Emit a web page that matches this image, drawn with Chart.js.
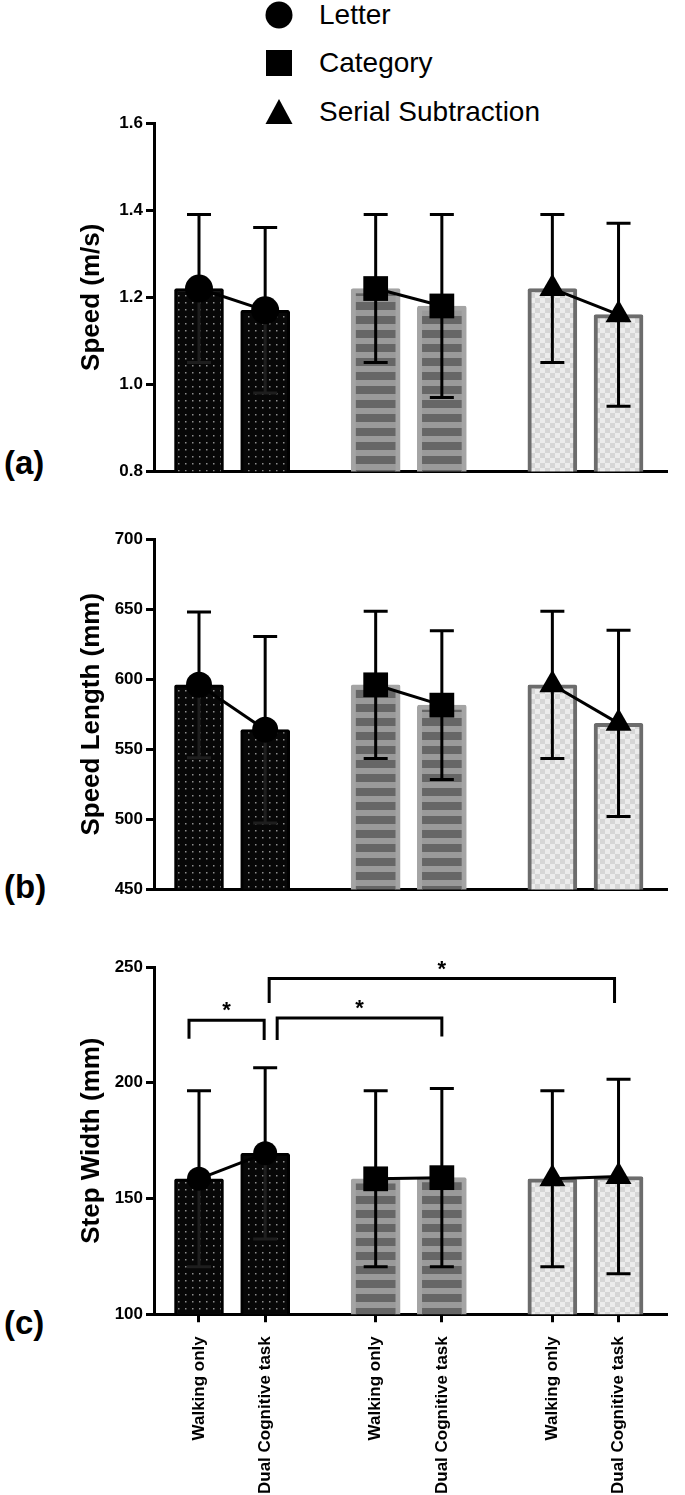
<!DOCTYPE html>
<html><head><meta charset="utf-8">
<script src="https://cdn.jsdelivr.net/npm/chart.js@4.4.1/dist/chart.umd.min.js"></script>
<style>
html,body{margin:0;padding:0;background:#fff;width:685px;height:1495px;overflow:hidden;position:relative;font-family:"Liberation Sans",Arial,sans-serif;}
canvas{position:absolute;left:0;top:0;}
.lg{position:absolute;left:0;width:685px;height:30px;}
.lg svg{position:absolute;left:265px;top:1px;}
.lg span{position:absolute;left:319px;top:0;font-size:28px;line-height:30px;color:#000;white-space:nowrap;}
.pl{position:absolute;left:4px;font-size:33px;line-height:36px;font-weight:bold;color:#000;}
</style></head><body>
<div class="lg" style="top:0px"><svg width="28" height="28"><circle cx="14" cy="14" r="13.5" fill="#000"/></svg><span>Letter</span></div>
<div class="lg" style="top:48px"><svg width="28" height="28"><rect x="1" y="1" width="26" height="26" fill="#000"/></svg><span>Category</span></div>
<div class="lg" style="top:97px"><svg width="28" height="28"><polygon points="14,1 27.5,26 0.5,26" fill="#000"/></svg><span>Serial Subtraction</span></div>
<div class="pl" style="top:445px">(a)</div>
<div class="pl" style="top:869px">(b)</div>
<div class="pl" style="top:1305px">(c)</div>
<canvas id="cA"></canvas>
<canvas id="cB"></canvas>
<canvas id="cC"></canvas>
<script>
// ---------- data ----------
const tasks = ['Letter', 'Category', 'Serial Subtraction'];
const conditions = ['Walking only', 'Dual Cognitive task'];

const speedWalk = [1.22, 1.22, 1.22];
const speedWalkSD = [0.17, 0.17, 0.17];
const speedDual = [1.17, 1.18, 1.16];
const speedDualSD = [0.19, 0.21, 0.21];

const stepLenWalk = [596, 596, 596];
const stepLenWalkSD = [52, 52.5, 52.5];
const stepLenDual = [564, 581.5, 568.5];
const stepLenDualSD = [66.5, 53, 66.5];

const stepWidthWalk = [158.5, 158.5, 158.5];
const stepWidthWalkSD = [38, 38, 38];
const stepWidthDual = [169.5, 159, 159.5];
const stepWidthDualSD = [37, 38.5, 42];

const speedTicks = [0.8, 1.0, 1.2, 1.4, 1.6];
const stepLenTicks = [450, 500, 550, 600, 650, 700];
const stepWidthTicks = [100, 150, 200, 250];

// significance brackets (panel c): [task, condition] pairs and bracket level
const sigFrom = [[0, 0], [0, 1], [0, 1]];
const sigTo = [[0, 1], [1, 1], [2, 1]];
const sigLevel = [227, 228, 245];
const sigLegFrom = [219, 218.5, 234.5];
const sigLegTo = [218.5, 220, 234.5];
const sigLabel = ['*', '*', '*'];

// ---------- layout / style ----------
const GROUP_STEP = 2.67;
const xOf = (g, c) => g * GROUP_STEP + c;
const barX = [];
tasks.forEach((t, g) => conditions.forEach((c, ci) => barX.push(xOf(g, ci))));

Chart.defaults.font.family = '"Liberation Sans", Arial, sans-serif';
Chart.defaults.color = '#000';

function mk(w, h, draw) {
  const c = document.createElement('canvas'); c.width = w; c.height = h;
  const x = c.getContext('2d'); draw(x); return x.createPattern(c, 'repeat');
}
const dotFill = mk(7, 7, x => { x.fillStyle = '#070707'; x.fillRect(0, 0, 7, 7); x.fillStyle = '#8c8c8c'; x.fillRect(3, 3, 1.5, 1.5); });
const stripeFill = mk(14, 14, x => { x.fillStyle = '#9a9a9a'; x.fillRect(0, 0, 14, 14); x.fillStyle = '#666666'; x.fillRect(0, 3, 14, 8); });
const checkFill = mk(10, 10, x => { x.fillStyle = '#ececec'; x.fillRect(0, 0, 10, 10); x.fillStyle = '#d6d6d6'; x.fillRect(0, 0, 5, 5); x.fillRect(5, 5, 5, 5); });

const fills = [dotFill, stripeFill, checkFill];
const borders = ['#000000', '#a4a4a4', '#6c6c6c'];
const borderWidths = [3, 5, 4];
const pointStyles = ['circle', 'rect', 'triangle'];
const pointRadii = [13, 17.5, 15];

const errorBars = {
  id: 'errorBars',
  afterDatasetDraw(chart, args) {
    const ds = chart.data.datasets[args.index];
    if (!ds.errors) return;
    const ctx = chart.ctx, ys = chart.scales.y;
    ctx.save();
    ctx.lineWidth = 3;
    args.meta.data.forEach((bar, i) => {
      const m = ds.data[i].y, e = ds.errors[i];
      const yt = ys.getPixelForValue(m + e), ym = ys.getPixelForValue(m), yb = ys.getPixelForValue(m - e);
      const x = bar.x;
      ctx.strokeStyle = '#000';
      ctx.beginPath();
      ctx.moveTo(x, yt); ctx.lineTo(x, ym);
      ctx.moveTo(x - 12, yt); ctx.lineTo(x + 12, yt);
      ctx.stroke();
      ctx.strokeStyle = ds.lowerErrColor || '#000';
      ctx.beginPath();
      ctx.moveTo(x, ym); ctx.lineTo(x, yb);
      ctx.moveTo(x - 12, yb); ctx.lineTo(x + 12, yb);
      ctx.stroke();
    });
    ctx.restore();
  }
};

const sigPlugin = {
  id: 'sig',
  afterDraw(chart) {
    const ctx = chart.ctx, xs = chart.scales.x, ys = chart.scales.y;
    const offL = [-10, 12, 4], offR = [-1, 0, -4];
    ctx.save();
    ctx.strokeStyle = '#000'; ctx.lineWidth = 3; ctx.lineJoin = 'miter';
    ctx.fillStyle = '#000'; ctx.font = 'bold 22px "Liberation Sans", Arial';
    ctx.textAlign = 'center'; ctx.textBaseline = 'alphabetic';
    sigLevel.forEach((lv, i) => {
      const x1 = xs.getPixelForValue(xOf(sigFrom[i][0], sigFrom[i][1])) + offL[i];
      const x2 = xs.getPixelForValue(xOf(sigTo[i][0], sigTo[i][1])) + offR[i];
      const y = ys.getPixelForValue(lv);
      ctx.beginPath();
      ctx.moveTo(x1, ys.getPixelForValue(sigLegFrom[i]));
      ctx.lineTo(x1, y); ctx.lineTo(x2, y);
      ctx.lineTo(x2, ys.getPixelForValue(sigLegTo[i]));
      ctx.stroke();
      ctx.fillText(sigLabel[i], (x1 + x2) / 2, y - 3);
    });
    ctx.restore();
  }
};

function yScale(min, max, tickArr, title, fmt) {
  return {
    type: 'linear', min: min, max: max,
    afterBuildTicks: s => { s.ticks = tickArr.map(v => ({ value: v })); },
    afterFit: s => { s.width = 84; },
    ticks: { font: { size: 17, weight: 'bold' }, color: '#000', padding: 3, callback: v => fmt(v) },
    grid: { display: true, drawOnChartArea: false, drawTicks: true, tickLength: 8, tickWidth: 3, tickColor: '#000', color: '#000' },
    border: { display: true, color: '#000', width: 3 },
    title: { display: true, text: title, font: { size: 26, weight: 'bold' }, color: '#000', padding: { top: 6, bottom: 0 } }
  };
}
function xScale(showLabels) {
  return {
    type: 'linear', min: -0.68, max: 7.08, offset: false,
    afterBuildTicks: s => { s.ticks = barX.map(v => ({ value: v })); },
    ticks: { display: showLabels, autoSkip: false, maxRotation: 90, minRotation: 90, font: { size: 17, weight: 'bold' }, color: '#000', padding: 14, callback: (v, i) => conditions[i % 2] },
    grid: { display: true, offset: false, drawOnChartArea: false, drawTicks: showLabels, tickLength: 8, tickWidth: 3, tickColor: '#000', color: '#000' },
    border: { display: true, color: '#000', width: 3 }
  };
}
function datasets(walk, dual, walkSD, dualSD, rAdj) {
  const bars = tasks.map((t, g) => ({
    type: 'bar', label: t, order: 3, grouped: false, barThickness: 49,
    data: [{ x: xOf(g, 0), y: walk[g] }, { x: xOf(g, 1), y: dual[g] }],
    errors: [walkSD[g], dualSD[g]],
    lowerErrColor: g === 0 ? '#1e1e1e' : '#000',
    backgroundColor: fills[g], borderColor: borders[g], borderWidth: borderWidths[g],
    borderSkipped: false, borderRadius: 2
  }));
  const lines = tasks.map((t, g) => ({
    type: 'line', label: t, order: 1,
    data: [{ x: xOf(g, 0), y: walk[g] }, { x: xOf(g, 1), y: dual[g] }],
    borderColor: '#000', borderWidth: 3, backgroundColor: '#000',
    pointBackgroundColor: '#000', pointBorderColor: '#000', pointBorderWidth: 0,
    pointStyle: pointStyles[g], pointRadius: pointRadii[g] + (g === 0 ? rAdj : 0),
    fill: false, tension: 0, clip: false
  }));
  return bars.concat(lines);
}
function config(walk, dual, walkSD, dualSD, yMin, yMax, tickArr, title, fmt, showX, padTop, extra, rAdj) {
  return {
    type: 'bar',
    data: { datasets: datasets(walk, dual, walkSD, dualSD, rAdj) },
    options: {
      responsive: false, maintainAspectRatio: false, animation: false, devicePixelRatio: 1,
      layout: { padding: { left: 70, right: 3, top: padTop, bottom: 2 } },
      plugins: { legend: { display: false }, tooltip: { enabled: false } },
      scales: { x: xScale(showX), y: yScale(yMin, yMax, tickArr, title, fmt) }
    },
    plugins: [errorBars].concat(extra)
  };
}
function build(id, T, B, cfgFn) {
  const cv = document.getElementById(id);
  const h = (B - T) + 200;
  cv.width = 685; cv.height = h; cv.style.width = '685px'; cv.style.height = h + 'px';
  let chart = new Chart(cv, cfgFn());
  const ca = chart.chartArea;
  const nh = Math.round(h + (B - T) - (ca.bottom - ca.top));
  chart.destroy();
  cv.width = 685; cv.height = nh; cv.style.width = '685px'; cv.style.height = nh + 'px';
  chart = new Chart(cv, cfgFn());
  cv.style.top = (T - chart.chartArea.top) + 'px';
  return chart;
}
const f1 = v => Number(v).toFixed(1);
const f0 = v => String(v);
build('cA', 123, 471, () => config(speedWalk, speedDual, speedWalkSD, speedDualSD, 0.8, 1.6, speedTicks, 'Speed (m/s)', f1, false, 20, [], 1));
build('cB', 539, 889, () => config(stepLenWalk, stepLenDual, stepLenWalkSD, stepLenDualSD, 450, 700, stepLenTicks, 'Speed Length (mm)', f0, false, 20, [], 0));
build('cC', 967, 1314, () => config(stepWidthWalk, stepWidthDual, stepWidthWalkSD, stepWidthDualSD, 100, 250, stepWidthTicks, 'Step Width (mm)', f0, true, 40, [sigPlugin], -1));
</script>
</body></html>
